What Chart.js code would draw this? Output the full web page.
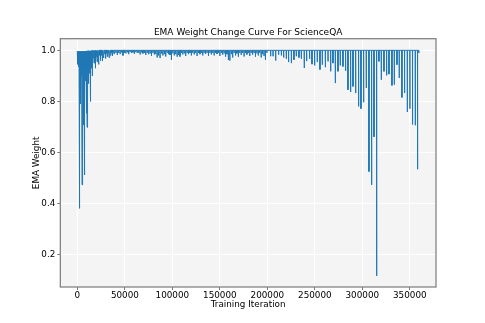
<!DOCTYPE html>
<html>
<head>
<meta charset="utf-8">
<title>EMA Weight Change Curve For ScienceQA</title>
<script src="https://cdn.jsdelivr.net/npm/chart.js@4.4.1/dist/chart.umd.min.js"></script>
<style>
  html, body { margin: 0; padding: 0; background: #ffffff; }
  #wrap { width: 485px; height: 323px; }
</style>
</head>
<body>
<div id="wrap"><canvas id="emaChart" width="485" height="323"></canvas></div>
<script>
const chartTitle = "EMA Weight Change Curve For ScienceQA";
const xAxisLabel = "Training Iteration";
const yAxisLabel = "EMA Weight";

const xTicks = [0, 50000, 100000, 150000, 200000, 250000, 300000, 350000];
const yTicks = [0.2, 0.4, 0.6, 0.8, 1.0];

// warm-up phase: deep drops while the EMA settles
const warmupDipIterations = [
  0, 300, 600, 900, 1200, 1600, 1900, 2200, 2450, 2700,
  3000, 3300, 3700, 4100, 4500, 4900, 5200, 5600, 5900, 6300,
  6700, 7000, 7300, 7700, 8000, 8400, 8800, 9100, 9500, 9800,
  10200, 10600, 11100, 11500, 12000, 12500, 13000, 13300, 13700, 14300,
  15000, 15500, 16000, 16800, 17500, 18200, 19000, 19800, 20700, 21600,
  22500, 23400, 24300, 25200, 26100, 27000, 27900, 28800, 29700, 30600,
  31500, 32400, 33300, 34200, 35100, 36000, 36900, 37800, 38700
];
const warmupDipWeights = [
  0.945, 0.96, 0.95, 0.935, 0.94, 0.96, 0.955, 0.93, 0.382, 0.95,
  0.79, 0.92, 0.94, 0.94, 0.90, 0.474, 0.93, 0.85, 0.91, 0.92,
  0.708, 0.94, 0.93, 0.513, 0.92, 0.88, 0.95, 0.93, 0.754, 0.94,
  0.699, 0.95, 0.93, 0.94, 0.87, 0.95, 0.91, 0.96, 0.80, 0.96,
  0.93, 0.96, 0.90, 0.97, 0.95, 0.97, 0.93, 0.975, 0.955, 0.975,
  0.945, 0.98, 0.96, 0.98, 0.958, 0.985, 0.97, 0.985, 0.968, 0.988,
  0.975, 0.99, 0.972, 0.99, 0.98, 0.99, 0.978, 0.992, 0.985
];
const warmupPlateau = [
  0.996, 0.996, 0.996, 0.996, 0.996, 0.996, 0.996, 0.996, 0.996, 0.996,
  0.996, 0.996, 0.996, 0.996, 0.996, 0.996, 0.996, 0.996, 0.996, 0.996,
  0.997, 0.997, 0.997, 0.997, 0.997, 0.997, 0.997, 0.997, 0.997, 0.997,
  0.998, 0.998, 0.998, 0.998, 0.998, 0.998, 0.998, 0.998, 0.998, 0.998,
  0.999, 0.999, 0.999, 0.999, 0.999, 0.999, 0.999, 0.999, 0.999, 0.999,
  1.0, 1.0, 1.0, 1.0, 1.0, 1.0, 1.0, 1.0, 1.0, 1.0,
  1.0, 1.0, 1.0, 1.0, 1.0, 1.0, 1.0, 1.0, 1.0
];

// middle phase: shallow dips just under 1.0
const middleDipIterations = [
  40500, 42000, 43500, 45000, 46500, 48000, 49500, 51000, 52500, 54000,
  55500, 57000, 58500, 60000, 61500, 63000, 64500, 66000, 67500, 69000,
  70500, 72000, 73500, 75000, 76500, 78000, 79500, 81000, 82500, 84000,
  85500, 87000, 88500, 90000, 91500, 93000, 94500, 96000, 97500, 99000,
  100500, 102000, 103500, 105000, 106500, 108000, 109500, 111000, 112500, 114000,
  115500, 117000, 118500, 120000, 121500, 123000, 124500, 126000, 127500, 129000,
  130500, 132000, 133500, 135000, 136500, 138000, 139500, 141000, 142500, 144000,
  145500, 147000, 148500, 150000, 151500, 153000, 154500, 156000, 157500, 159000,
  160500, 162000, 163500, 165000, 166500, 168000, 169500, 171000, 172500, 174000,
  175500, 177000, 178500, 180000, 181500, 183000, 184500, 186000, 187500, 189000,
  190500, 192000, 193500, 195000, 196500, 198000, 199500
];
const middleDipWeights = [
  0.99, 0.982, 0.99, 0.985, 0.992, 0.980, 0.99, 0.988, 0.992, 0.985,
  0.993, 0.990, 0.992, 0.986, 0.993, 0.990, 0.991, 0.984, 0.992, 0.988,
  0.99, 0.982, 0.99, 0.985, 0.988, 0.978, 0.99, 0.984, 0.985, 0.972,
  0.98, 0.970, 0.988, 0.980, 0.985, 0.976, 0.99, 0.985, 0.982, 0.963,
  0.988, 0.980, 0.985, 0.975, 0.982, 0.976, 0.99, 0.984, 0.988, 0.978,
  0.99, 0.985, 0.99, 0.980, 0.99, 0.984, 0.99, 0.978, 0.99, 0.985,
  0.99, 0.980, 0.99, 0.986, 0.99, 0.978, 0.99, 0.984, 0.99, 0.980,
  0.99, 0.986, 0.99, 0.978, 0.99, 0.983, 0.988, 0.975, 0.985, 0.962,
  0.960, 0.985, 0.972, 0.99, 0.980, 0.988, 0.975, 0.99, 0.982, 0.99,
  0.976, 0.99, 0.984, 0.99, 0.978, 0.99, 0.983, 0.99, 0.975, 0.988,
  0.980, 0.99, 0.972, 0.985, 0.978, 0.963, 0.99
];
const middlePlateau = 1.0;

// late phase: drops grow deep again
const lateDipIterations = [
  203500, 206000, 208800, 211900, 214800, 217200, 220000, 222400, 225300, 228000,
  230500, 233300, 235800, 238900, 241400, 244500, 247000, 249800, 252600, 255400,
  257900, 261100, 263900, 266700, 269100, 271600, 274400, 276800, 279600, 282400,
  284900, 287700, 290200, 293000, 296100, 298600, 301400, 304200, 307000, 309800,
  312300, 315100, 317500, 320000, 322800, 325600, 328100, 331200, 333700, 336500,
  338900, 341700, 344500, 347400, 350100, 352900, 355800, 358200, 359500
];
const lateDipWeights = [
  0.977, 0.977, 0.960, 0.983, 0.980, 0.972, 0.967, 0.954, 0.950, 0.963,
  0.977, 0.972, 0.967, 0.931, 0.958, 0.967, 0.946, 0.941, 0.954, 0.925,
  0.944, 0.934, 0.957, 0.918, 0.950, 0.872, 0.918, 0.941, 0.937, 0.920,
  0.846, 0.837, 0.859, 0.833, 0.781, 0.772, 0.797, 0.853, 0.526, 0.474,
  0.662, 0.118, 0.957, 0.885, 0.918, 0.902, 0.907, 0.863, 0.866, 0.944,
  0.892, 0.816, 0.833, 0.759, 0.772, 0.710, 0.707, 0.535, 0.99
];
const latePlateau = 1.0;

// each logged drop is a narrow spike down from the plateau level
const SPIKE_HALF = 100;
const points = [];
function addDips(iters, weights, plateau) {
  iters.forEach((it, i) => {
    const top = Array.isArray(plateau) ? plateau[i] : plateau;
    points.push({ x: it - SPIKE_HALF, y: top });
    points.push({ x: it, y: weights[i] });
    points.push({ x: it + SPIKE_HALF, y: top });
  });
}
addDips(warmupDipIterations, warmupDipWeights, warmupPlateau);
addDips(middleDipIterations, middleDipWeights, middlePlateau);
addDips(lateDipIterations, lateDipWeights, latePlateau);

const FONT = '"DejaVu Sans", "Liberation Sans", sans-serif';

// axes background, frame and centred title
const plotFrame = {
  id: "plotFrame",
  beforeDraw(chart) {
    const { ctx, chartArea: a } = chart;
    ctx.save();
    ctx.fillStyle = "#f4f4f4";
    ctx.fillRect(a.left, a.top, a.right - a.left, a.bottom - a.top);
    ctx.restore();
  },
  afterDraw(chart) {
    const { ctx, chartArea: a } = chart;
    ctx.save();
    ctx.strokeStyle = "#7a7a7a";
    ctx.lineWidth = 1.2;
    ctx.strokeRect(a.left, a.top, a.right - a.left, a.bottom - a.top);
    ctx.fillStyle = "#000";
    ctx.font = "9px " + FONT;
    ctx.textAlign = "center";
    ctx.textBaseline = "middle";
    ctx.fillText(chartTitle, (a.left + a.right) / 2, 33);
    ctx.restore();
  }
};

new Chart(document.getElementById("emaChart"), {
  type: "line",
  data: {
    datasets: [
      {
        label: yAxisLabel,
        data: points,
        borderColor: "#1f77b4",
        borderWidth: 1.0,
        borderJoinStyle: "round",
        pointRadius: 0,
        tension: 0,
        fill: false
      }
    ]
  },
  options: {
    responsive: false,
    animation: false,
    devicePixelRatio: 1,
    layout: { padding: { top: 38.7, left: 0, right: 49, bottom: 0 } },
    plugins: {
      legend: { display: false },
      tooltip: { enabled: false },
      title: { display: false }
    },
    scales: {
      x: {
        type: "linear",
        min: -18000,
        max: 377600,
        afterBuildTicks: (scale) => {
          scale.ticks = xTicks.map((v) => ({ value: v }));
        },
        afterFit: (scale) => {
          scale.height = 36;
        },
        ticks: {
          autoSkip: false,
          maxRotation: 0,
          padding: 0,
          color: "#000",
          font: { family: FONT, size: 8.8 },
          callback: (v) => String(v)
        },
        grid: {
          color: "#ffffff",
          lineWidth: 1,
          drawTicks: true,
          tickLength: 3,
          tickColor: "#7a7a7a",
          tickWidth: 1
        },
        border: { display: false },
        title: {
          display: true,
          text: xAxisLabel,
          color: "#000",
          font: { family: FONT, size: 8.8 },
          padding: { top: 0, bottom: 13 }
        }
      },
      y: {
        min: 0.0745,
        max: 1.0455,
        afterBuildTicks: (scale) => {
          scale.ticks = yTicks.map((v) => ({ value: v }));
        },
        afterFit: (scale) => {
          scale.width = 60.3;
        },
        ticks: {
          autoSkip: false,
          padding: 2,
          color: "#000",
          font: { family: FONT, size: 8.8 },
          callback: (v) => v.toFixed(1)
        },
        grid: {
          color: "#ffffff",
          lineWidth: 1,
          drawTicks: true,
          tickLength: 3,
          tickColor: "#7a7a7a",
          tickWidth: 1
        },
        border: { display: false },
        title: {
          display: true,
          text: yAxisLabel,
          color: "#000",
          font: { family: FONT, size: 8.8 },
          padding: { top: 31, bottom: 0 }
        }
      }
    }
  },
  plugins: [plotFrame]
});
</script>
</body>
</html>
